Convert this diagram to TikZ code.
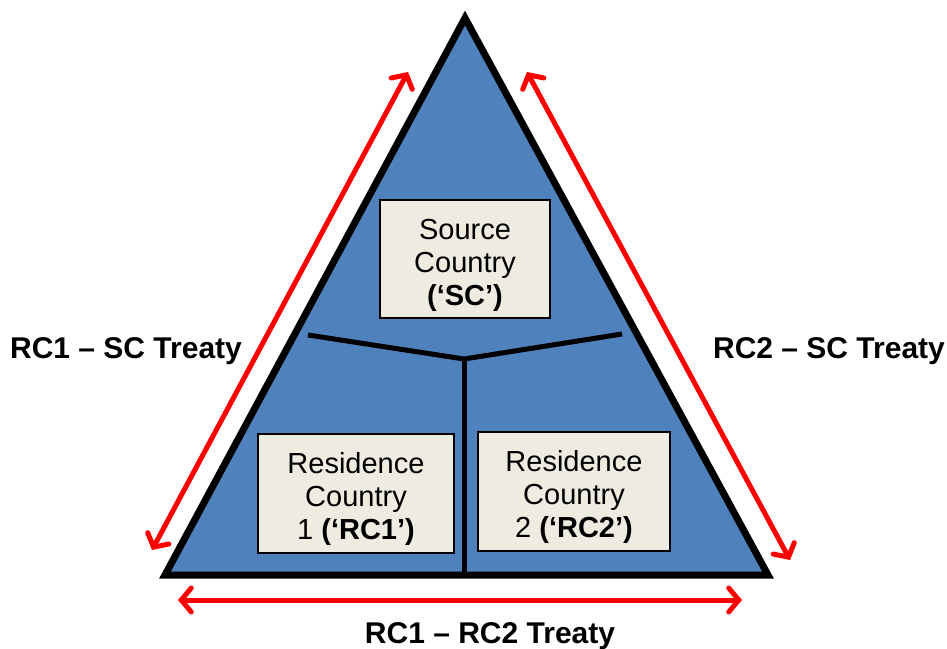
\documentclass[tikz,border=0pt]{standalone}
\usepackage{fontspec}
\setmainfont{Liberation Sans}
\usetikzlibrary{arrows.meta}
\definecolor{triblue}{HTML}{4F81BD}
\definecolor{boxfill}{HTML}{EEECE1}
\definecolor{arrred}{HTML}{FF0000}
\tikzset{
  boxstyle/.style={draw=black, line width=1.5pt, fill=boxfill, inner sep=0pt},
  boxtext/.style={align=center, font=\fontsize{29}{33}\selectfont},
  redarrow/.style={draw=arrred, line width=5pt, {Straight Barb[length=10pt,width=24pt,line cap=round]}-{Straight Barb[length=10pt,width=24pt,line cap=round]}},
  treatylabel/.style={font=\fontsize{30}{33}\selectfont\bfseries},
  divider/.style={draw=black, line width=5pt}
}
\begin{document}
\begin{tikzpicture}[x=1pt,y=-1pt]
\useasboundingbox (0,0) rectangle (947,648);
% triangle
\coordinate (apex) at (465,18);
\coordinate (bl) at (165,575);
\coordinate (br) at (768,575);
\draw[fill=triblue, line width=7pt, line join=miter] (apex) -- (bl) -- (br) -- cycle;
% dividers
\coordinate (dl) at (308,335);
\coordinate (dm) at (464,359);
\coordinate (dr) at (622,334);
\coordinate (db) at (464,575);
\draw[divider] (dl) -- (dm) -- (dr);
\draw[divider] (dm) -- (db);
% boxes
\draw[boxstyle] (380,200) rectangle (550,318);
\node[boxtext] (sc) at (465,265) {Source\\Country\\\textbf{(‘SC’)}};
\draw[boxstyle] (258,434) rectangle (454,553);
\node[boxtext] (rc1) at (356,499) {Residence\\Country\\1 \textbf{(‘RC1’)}};
\draw[boxstyle] (478,432) rectangle (670,551);
\node[boxtext] (rc2) at (574,497) {Residence\\Country\\2 \textbf{(‘RC2’)}};
% arrows
\coordinate (la) at (152,550);
\coordinate (lb) at (408,72);
\coordinate (ra) at (527,72);
\coordinate (rb) at (790,560);
\coordinate (ba) at (178,600);
\coordinate (bb) at (742,600);
\draw[redarrow] (la) -- (lb);
\draw[redarrow] (ra) -- (rb);
\draw[redarrow] (ba) -- (bb);
% labels
\node[treatylabel] (l1) at (126,351) {RC1 – SC Treaty};
\node[treatylabel] (l2) at (829,351) {RC2 – SC Treaty};
\node[treatylabel] (l3) at (490,636) {RC1 – RC2 Treaty};
\end{tikzpicture}
\end{document}
